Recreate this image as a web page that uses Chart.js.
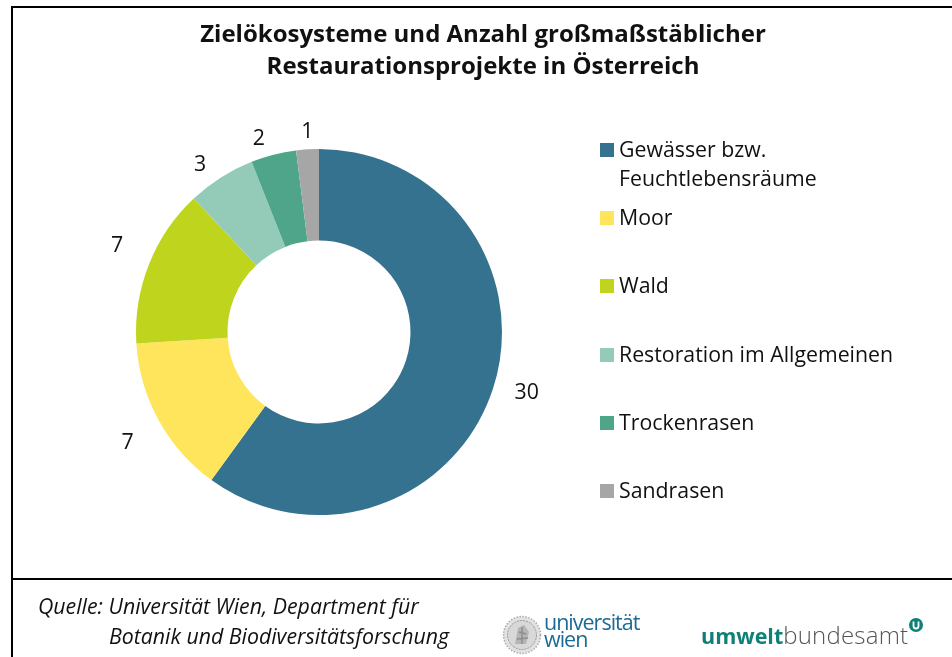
<!DOCTYPE html>
<html lang="de">
<head>
<meta charset="utf-8">
<title>Zielökosysteme</title>
<script src="https://cdn.jsdelivr.net/npm/chart.js@4/dist/chart.umd.min.js"></script>
<style>
    html, body { margin: 0; padding: 0; background: #fff; }
    body { width: 952px; height: 657px; position: relative; overflow: hidden; font-family: "Open Sans", sans-serif; color: #111; }
    #chart { position: absolute; left: 0; top: 0; }
    .frame { position: absolute; background: #000; }
    .title { position: absolute; left: 0; width: 966px; top: 17px; font-size: 24px; font-weight: 700; line-height: 32px; text-align: center; }
    .legend-item { position: absolute; left: 619px; font-size: 21.3px; line-height: 29px; white-space: nowrap; }
    .legend-box { position: absolute; left: 600px; width: 14px; height: 14px; }
    .source { position: absolute; font-size: 21.3px; font-style: italic; white-space: nowrap; line-height: 30px; }
    .logo-uni { position: absolute; left: 544px; top: 613px; font-size: 21.5px; line-height: 17px; color: #1d6a96; letter-spacing: -1px; }
    .logo-uba { position: absolute; left: 701px; top: 619px; line-height: 32px; white-space: nowrap; }
    .logo-uba b { color: #0f8078; font-size: 21.5px; }
    .logo-uba span { color: #555; font-size: 24px; font-weight: 300; letter-spacing: 0.2px; }
</style>
</head>
<body>
<canvas id="chart" width="952" height="657"></canvas>
<div class="frame" style="left:11px;top:6px;width:941px;height:2px"></div>
<div class="frame" style="left:11px;top:6px;width:2px;height:651px"></div>
<div class="frame" style="left:11px;top:578px;width:941px;height:2px"></div>
<div class="title">Zielökosysteme und Anzahl großmaßstäblicher<br>Restaurationsprojekte in Österreich</div>
<div id="legend"></div>
<div class="source" style="left:38px;top:591px">Quelle: Universität Wien, Department für</div>
<div class="source" style="left:109px;top:621px">Botanik und Biodiversitätsforschung</div>
<svg style="position:absolute;left:502px;top:614px" width="40" height="42" viewBox="0 0 40 42">
    <defs><filter id="soft"><feGaussianBlur stdDeviation="0.5"/></filter></defs>
    <g filter="url(#soft)">
        <circle cx="20" cy="21" r="18.5" fill="#e2e2e2" stroke="#aaa" stroke-width="1.5" stroke-dasharray="1.5 1.5"/>
        <circle cx="20" cy="21" r="14.5" fill="#d8d8d8" stroke="#999" stroke-width="1" stroke-dasharray="2 1"/>
        <path d="M13 30 L16 14 L22 11 L27 18 L24 30 Z" fill="#b5b5b5"/>
        <path d="M17 18 L24 20 M15 25 L26 24 M20 13 L20 30" stroke="#8c8c8c" stroke-width="1.4" fill="none"/>
    </g>
</svg>
<div class="logo-uni">universität<br>wien</div>
<div class="logo-uba"><b>umwelt</b><span>bundesamt</span></div>
<svg style="position:absolute;left:907px;top:616px" width="18" height="18" viewBox="0 0 18 18">
    <circle cx="9" cy="9" r="7" fill="#0f8078"/>
    <path d="M6.5 5.5 V10 A2.5 2.5 0 0 0 11.5 10 V5.5" fill="none" stroke="#fff" stroke-width="1.8"/>
</svg>
<script>
// Werte
const categories = ['Gewässer bzw. Feuchtlebensräume', 'Moor', 'Wald', 'Restoration im Allgemeinen', 'Trockenrasen', 'Sandrasen'];
const projects = [30, 7, 7, 3, 2, 1];
const colors = ['#35728f', '#ffe55c', '#bfd41c', '#93cbb8', '#4fa58a', '#a6a6a6'];

// legend rows (top of text block), first entry wraps
const legendTops = [134, 202, 270, 339, 407, 475];
const legendEl = document.getElementById('legend');
categories.forEach(function (cat, i) {
    const box = document.createElement('div');
    box.className = 'legend-box';
    box.style.top = (legendTops[i] + 9) + 'px';
    box.style.background = colors[i];
    legendEl.appendChild(box);
    const item = document.createElement('div');
    item.className = 'legend-item';
    item.style.top = legendTops[i] + 'px';
    item.innerHTML = i === 0 ? 'Gewässer bzw.<br>Feuchtlebensräume' : cat;
    legendEl.appendChild(item);
});

// value labels outside the ring, each pushed out by its own distance
const outerLabels = {
    id: 'outerLabels',
    afterDatasetsDraw(chart, args, opts) {
        const ctx = chart.ctx;
        const arcs = chart.getDatasetMeta(0).data;
        ctx.save();
        ctx.font = '21.3px "Open Sans"';
        ctx.fillStyle = '#111';
        ctx.textAlign = 'center';
        ctx.textBaseline = 'middle';
        arcs.forEach(function (arc, i) {
            const mid = (arc.startAngle + arc.endAngle) / 2 + opts.nudge[i];
            const r = arc.outerRadius + opts.gap[i];
            ctx.fillText(String(projects[i]), arc.x + Math.cos(mid) * r, arc.y + Math.sin(mid) * r + 1);
        });
        ctx.restore();
    }
};

new Chart(document.getElementById('chart'), {
    type: 'doughnut',
    data: {
        labels: categories,
        datasets: [{
            data: projects,
            backgroundColor: colors,
            borderWidth: 0
        }]
    },
    options: {
        responsive: false,
        animation: false,
        cutout: '50%',
        layout: { padding: { left: 136, right: 450, top: 149, bottom: 142 } },
        plugins: {
            legend: { display: false },
            tooltip: { enabled: false },
            outerLabels: {
                gap: [33, 38, 37, 23, 20, 18],
                nudge: [-0.035, -0.02, 0.03, -0.05, -0.05, 0.005]
            }
        }
    },
    plugins: [outerLabels]
});
</script>
</body>
</html>
